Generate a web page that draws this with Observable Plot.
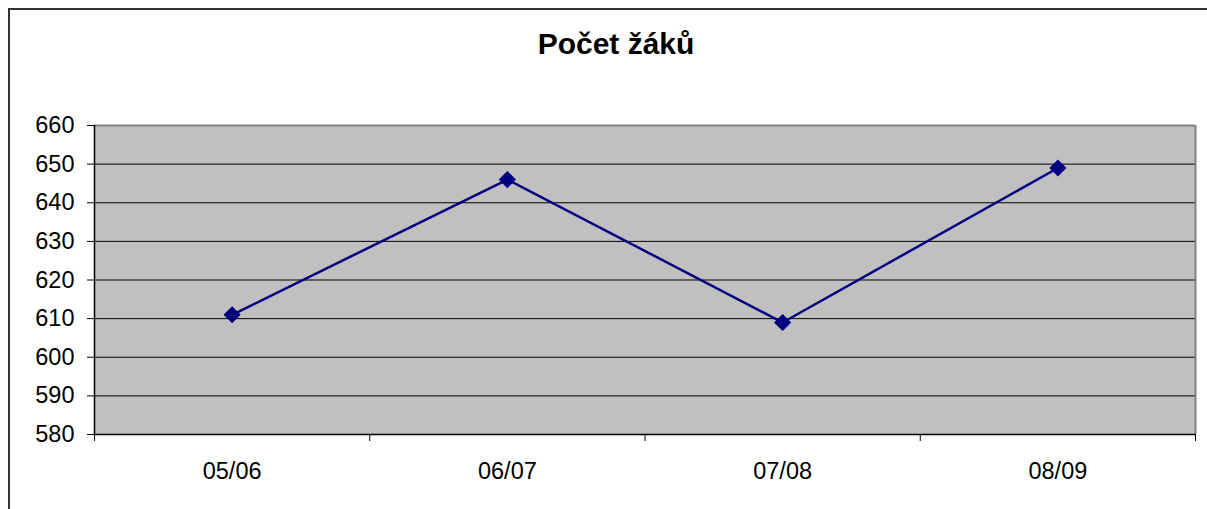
<!DOCTYPE html>
<html>
<head>
<meta charset="utf-8">
<script src="https://cdn.jsdelivr.net/npm/d3@7"></script>
<script src="https://cdn.jsdelivr.net/npm/@observablehq/plot@0.6"></script>
<style>
  html, body { margin: 0; padding: 0; background: #fff; }
  #wrap { position: relative; width: 1207px; height: 509px; overflow: hidden; font-family: "Liberation Sans", Arial, sans-serif; }
  #frame { position: absolute; left: 8px; top: 8px; width: 1300px; height: 600px; border-left: 2px solid #333; border-top: 2px solid #333; box-sizing: border-box; }
  #title { position: absolute; left: 0; top: 0; width: 1207px; height: 100px; text-align: center; }
  #title span { position: absolute; left: 616px; top: 44px; transform: translate(-50%, -50%); font-weight: bold; font-size: 30px; white-space: nowrap; }
  #chart { position: absolute; left: 0; top: 100px; }
</style>
</head>
<body>
<div id="wrap">
  <div id="frame"></div>
  <div id="title"><span>Počet žáků</span></div>
  <div id="chart"></div>
</div>
<script>
const title = "Počet žáků";
const years = ["05/06", "06/07", "07/08", "08/09"];
const pupils = [611, 646, 609, 649];
const yTicks = [580, 590, 600, 610, 620, 630, 640, 650, 660];

const data = years.map((year, i) => ({year, i: i + 0.5, value: pupils[i]}));
const centers = years.map((_, i) => i + 0.5);
const bounds = d3.range(years.length + 1);

const plot = Plot.plot({
  width: 1207,
  height: 409,
  marginLeft: 94,
  marginRight: 12,
  marginTop: 25,
  marginBottom: 75,
  style: {fontFamily: "'Liberation Sans', Arial, sans-serif", fontSize: "23.5px", color: "#000", background: "transparent"},
  x: {type: "linear", domain: [0, years.length]},
  y: {domain: [580, 660]},
  marks: [
    Plot.frame({fill: "#c0c0c0", stroke: null}),
    Plot.ruleY(yTicks.slice(1, -1), {stroke: "#000", strokeWidth: 1}),
    Plot.ruleY([660], {stroke: "#808080", strokeWidth: 2}),
    Plot.ruleX([years.length], {stroke: "#808080", strokeWidth: 2}),
    Plot.ruleY([580], {stroke: "#000", strokeWidth: 1.5}),
    Plot.ruleX([0], {stroke: "#000", strokeWidth: 1.5}),
    Plot.axisY({ticks: yTicks, tickSize: 7, tickPadding: 13, tickFormat: d => String(d), label: null, fontSize: 23.5}),
    Plot.axisX({ticks: bounds, tickSize: 7, tickFormat: () => "", label: null}),
    Plot.axisX({ticks: centers, tickSize: 0, tickPadding: 28, tickFormat: d => years[Math.round(d - 0.5)], label: null, fontSize: 23.5}),
    Plot.line(data, {x: "i", y: "value", stroke: "#000080", strokeWidth: 2.5}),
    Plot.dot(data, {x: "i", y: "value", symbol: "diamond2", r: 6.8, fill: "#000080", stroke: "#000080"})
  ]
});
document.getElementById("chart").appendChild(plot);
</script>
</body>
</html>
